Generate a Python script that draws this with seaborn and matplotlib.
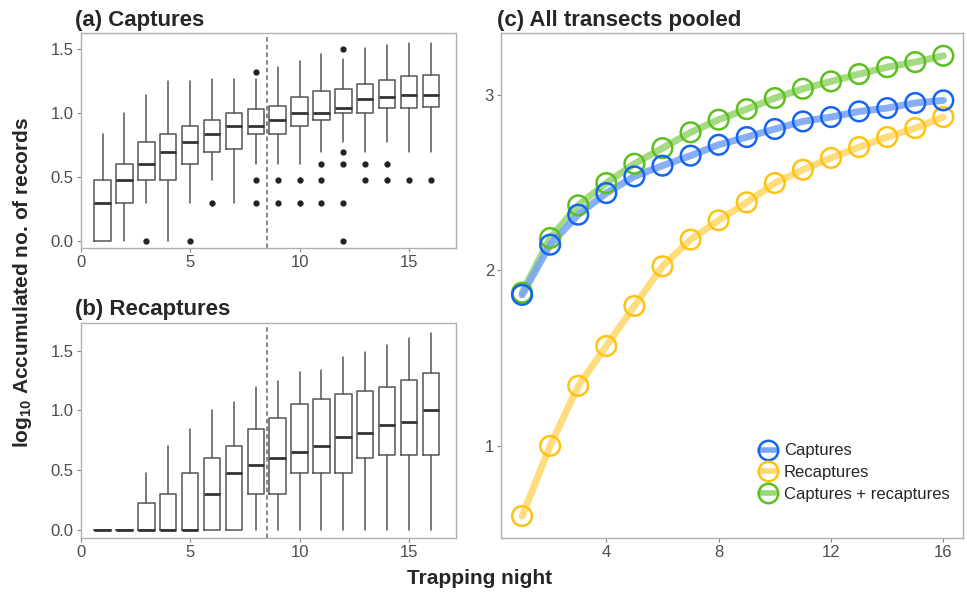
import numpy as np
import pandas as pd
import matplotlib
matplotlib.use("Agg")
import matplotlib.pyplot as plt
from matplotlib.lines import Line2D
import seaborn as sns

# ---------------- data ----------------
nights = list(range(1, 17))

# (a) Captures: box statistics per trapping night
cap_lo  = [0.00, 0.00, 0.30, 0.00, 0.30, 0.48, 0.30, 0.60, 0.60, 0.60, 0.70, 0.775, 0.70, 0.775, 0.70, 0.70]
cap_q1  = [0.00, 0.30, 0.48, 0.48, 0.60, 0.70, 0.72, 0.84, 0.84, 0.90, 0.95, 1.00, 1.00, 1.04, 1.04, 1.05]
cap_med = [0.30, 0.48, 0.60, 0.70, 0.775, 0.84, 0.90, 0.90, 0.95, 1.00, 1.00, 1.04, 1.11, 1.13, 1.14, 1.14]
cap_q3  = [0.48, 0.60, 0.775, 0.84, 0.90, 0.95, 1.00, 1.03, 1.06, 1.13, 1.17, 1.19, 1.23, 1.26, 1.29, 1.30]
cap_hi  = [0.84, 1.00, 1.14, 1.25, 1.25, 1.27, 1.27, 1.27, 1.36, 1.41, 1.46, 1.42, 1.51, 1.53, 1.55, 1.55]
cap_out = [[], [], [0.0], [], [0.0], [0.30], [], [1.32, 0.48, 0.30], [0.48, 0.30], [0.48, 0.30],
           [0.60, 0.48, 0.30], [1.50, 0.70, 0.60, 0.30, 0.0], [0.60, 0.48], [0.60, 0.48], [0.48], [0.48]]

# (b) Recaptures: box statistics per trapping night
rec_lo  = [0.0] * 16
rec_q1  = [0.00, 0.00, 0.00, 0.00, 0.00, 0.00, 0.00, 0.30, 0.30, 0.475, 0.475, 0.475, 0.60, 0.626, 0.626, 0.626]
rec_med = [0.00, 0.00, 0.00, 0.00, 0.00, 0.30, 0.475, 0.54, 0.60, 0.65, 0.70, 0.78, 0.81, 0.875, 0.90, 1.00]
rec_q3  = [0.00, 0.00, 0.226, 0.30, 0.475, 0.60, 0.70, 0.845, 0.94, 1.055, 1.095, 1.137, 1.16, 1.20, 1.257, 1.31]
rec_hi  = [0.00, 0.00, 0.475, 0.70, 0.845, 1.00, 1.075, 1.20, 1.25, 1.32, 1.34, 1.445, 1.49, 1.545, 1.61, 1.65]

# (c) All transects pooled
series_names = ["Captures", "Recaptures", "Captures + recaptures"]
pooled_captures   = [1.86, 2.146, 2.317, 2.44, 2.535, 2.596, 2.653, 2.715, 2.759, 2.805, 2.848, 2.873, 2.905, 2.924, 2.953, 2.968]
pooled_recaptures = [0.60, 1.00, 1.342, 1.569, 1.797, 2.023, 2.175, 2.285, 2.387, 2.497, 2.573, 2.64, 2.702, 2.759, 2.81, 2.873]
pooled_both       = [1.873, 2.184, 2.37, 2.497, 2.607, 2.696, 2.786, 2.858, 2.918, 2.981, 3.034, 3.076, 3.118, 3.157, 3.186, 3.222]

x_ticks_ab = [0, 5, 10, 15]
y_ticks_ab = [0.0, 0.5, 1.0, 1.5]
x_ticks_c = [4, 8, 12, 16]
y_ticks_c = [1, 2, 3]

# ---------------- style ----------------
sns.set_theme(style="white")
plt.rcParams["font.family"] = ["Liberation Sans", "DejaVu Sans"]
plt.rcParams["mathtext.fontset"] = "custom"
plt.rcParams["mathtext.bf"] = "Liberation Sans:bold"
plt.rcParams["mathtext.rm"] = "Liberation Sans:bold"
plt.rcParams["mathtext.default"] = "bf"

W, H = 967, 594
fig = plt.figure(figsize=(W / 100, H / 100), dpi=100)


def add_ax(left, top, right, bottom):
    return fig.add_axes([left / W, 1 - bottom / H, (right - left) / W, (bottom - top) / H])


ax_a = add_ax(80.7, 33.3, 456, 248)
ax_b = add_ax(80.7, 323.3, 456, 537.7)
ax_c = add_ax(501, 33.3, 963, 537.7)

frame_col = "#B0B0B0"
tick_col = "#4D4D4D"


def style_axes(ax):
    for s in ax.spines.values():
        s.set_color(frame_col)
        s.set_linewidth(1.0)
    ax.tick_params(axis="both", which="both", direction="out", length=3, width=0.8,
                   color="#888888", labelcolor=tick_col, labelsize=12, pad=2,
                   bottom=True, left=True)
    ax.grid(False)


def draw_boxes(ax, lo, q1, med, q3, hi, outs):
    stats = []
    for i in range(len(nights)):
        stats.append(dict(whislo=lo[i], q1=q1[i], med=med[i], q3=q3[i], whishi=hi[i],
                          fliers=outs[i] if outs is not None else []))
    ax.bxp(stats, positions=nights, widths=0.75, showcaps=False, patch_artist=False,
           boxprops=dict(color="#555555", linewidth=1.1),
           whiskerprops=dict(color="#555555", linewidth=1.1),
           medianprops=dict(color="#333333", linewidth=2.0),
           flierprops=dict(marker="o", markerfacecolor="#222222", markeredgecolor="#222222",
                           markersize=3.5, linestyle="none"),
           manage_ticks=False)
    ax.axvline(8.5, color="#666666", linestyle=(0, (3, 2)), linewidth=1.1, zorder=0)
    ax.set_xticks(x_ticks_ab)
    ax.set_yticks(y_ticks_ab)
    ax.set_yticklabels([f"{v:.1f}" for v in y_ticks_ab])
    ax.set_xlabel("")
    ax.set_ylabel("")
    style_axes(ax)


draw_boxes(ax_a, cap_lo, cap_q1, cap_med, cap_q3, cap_hi, cap_out)
ax_a.set_xlim(0.0, 17.15)
ax_a.set_ylim(-0.055, 1.625)

draw_boxes(ax_b, rec_lo, rec_q1, rec_med, rec_q3, rec_hi, None)
ax_b.set_xlim(0.0, 17.15)
ax_b.set_ylim(-0.065, 1.73)

# ---------------- panel (c) ----------------
df = pd.DataFrame({
    "night": nights * 3,
    "value": pooled_captures + pooled_recaptures + pooled_both,
    "series": [series_names[0]] * 16 + [series_names[1]] * 16 + [series_names[2]] * 16,
})
edge_cols = {"Captures": "#1464F4", "Recaptures": "#FFC20E", "Captures + recaptures": "#5CBF1E"}
line_cols = {"Captures": "#7AA5F7", "Recaptures": "#FFDA70", "Captures + recaptures": "#9AD775"}

for name in ["Recaptures", "Captures + recaptures", "Captures"]:
    sub = df[df["series"] == name]
    sns.lineplot(data=sub, x="night", y="value", color=line_cols[name], linewidth=5,
                 alpha=0.9, ax=ax_c, legend=False, zorder=2)
    ax_c.scatter(sub["night"], sub["value"], s=200, facecolors="none",
                 edgecolors=edge_cols[name], linewidths=1.8, zorder=3)

ax_c.set_xlim(0.25, 16.7)
ax_c.set_ylim(0.477, 3.35)
ax_c.set_xticks(x_ticks_c)
ax_c.set_yticks(y_ticks_c)
ax_c.set_xlabel("")
ax_c.set_ylabel("")
style_axes(ax_c)

handles = [Line2D([0], [0], color=line_cols[n], linewidth=4, marker="o", markersize=14,
                  markerfacecolor="none", markeredgecolor=edge_cols[n], markeredgewidth=1.8)
           for n in series_names]
leg = ax_c.legend(handles, series_names, loc="lower right", bbox_to_anchor=(0.985, 0.058),
                  frameon=False, fontsize=12, handlelength=0.9, handletextpad=0.5,
                  labelspacing=0.4, borderaxespad=0)

# ---------------- titles and axis labels ----------------
fig.text(75 / W, 1 - 26 / H, "(a) Captures", fontsize=16, fontweight="bold", va="baseline", ha="left")
fig.text(75 / W, 1 - 315 / H, "(b) Recaptures", fontsize=16, fontweight="bold", va="baseline", ha="left")
fig.text(497 / W, 1 - 26 / H, "(c) All transects pooled", fontsize=16, fontweight="bold", va="baseline", ha="left")
fig.text(23 / W, 1 - 282 / H, r"log$_{10}$ Accumulated no. of records", fontsize=15,
         fontweight="bold", rotation=90, ha="center", va="center")
fig.text(480 / W, 1 - 579 / H, "Trapping night", fontsize=15, fontweight="bold", ha="center", va="center")

fig.savefig("out.png", dpi=100)
